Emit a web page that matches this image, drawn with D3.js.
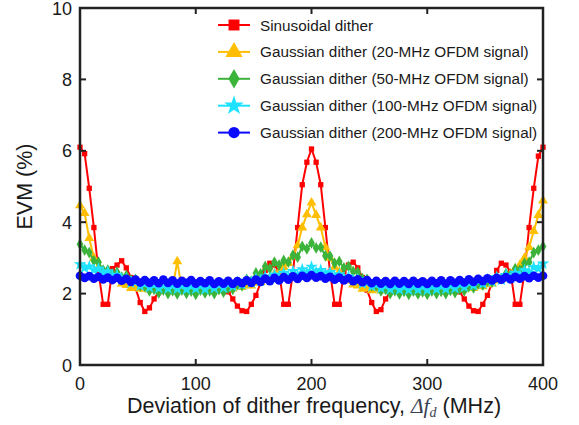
<!DOCTYPE html>
<html>
    <head>
        <meta charset="utf-8">
        <title>EVM vs dither frequency</title>
        <script src='https://d3js.org/d3.v7.min.js'></script>
        <style>
            body { margin: 0; background: #fff; }
            text { font-family: "Liberation Sans", Arial, sans-serif; fill: #1a1a1a; }
        </style>
    </head>
    <body>
        <svg class="chart" width="579" height="425"></svg>

        <script>
            // dither frequency grid (MHz), one sample every 4 MHz
            const freqMHz = d3.range(0, 401, 4)

            const seriesNames = [
                "Sinusoidal dither",
                "Gaussian dither (20-MHz OFDM signal)",
                "Gaussian dither (50-MHz OFDM signal)",
                "Gaussian dither (100-MHz OFDM signal)",
                "Gaussian dither (200-MHz OFDM signal)"
            ]

            // EVM (%), rows of 10 samples (0-36, 40-76, ... 360-396, 400)
            const evmSinusoidal = [
                6.10, 5.92, 4.95, 3.85, 2.60, 1.70, 1.70, 2.70, 2.80, 2.92,
                2.72, 2.45, 2.15, 1.75, 1.50, 1.60, 1.85, 2.05, 2.20, 2.28,
                2.30, 2.32, 2.30, 2.33, 2.30, 2.32, 2.30, 2.33, 2.30, 2.28,
                2.25, 2.20, 2.05, 1.85, 1.65, 1.52, 1.50, 1.70, 1.95, 2.30,
                2.65, 2.85, 2.80, 2.60, 1.70, 1.70, 2.60, 3.85, 5.05, 5.68,
                6.05, 5.68, 5.05, 3.85, 2.60, 1.70, 1.70, 2.60, 2.80, 2.88,
                2.72, 2.45, 2.10, 1.75, 1.50, 1.55, 1.85, 2.05, 2.20, 2.28,
                2.30, 2.32, 2.30, 2.33, 2.30, 2.32, 2.30, 2.32, 2.30, 2.28,
                2.25, 2.20, 2.05, 1.85, 1.65, 1.52, 1.50, 1.70, 1.95, 2.30,
                2.65, 2.85, 2.80, 2.60, 1.70, 1.70, 2.60, 3.85, 4.95, 5.85,
                6.10
            ]
            const evmGauss20 = [
                4.47, 4.25, 3.55, 3.00, 2.75, 2.60, 2.55, 2.42, 2.42, 2.28,
                2.24, 2.15, 2.17, 2.13, 2.16, 2.11, 2.15, 2.10, 2.14, 2.11,
                2.15, 2.90, 2.14, 2.10, 2.15, 2.10, 2.14, 2.11, 2.16, 2.12,
                2.16, 2.13, 2.18, 2.14, 2.20, 2.18, 2.23, 2.22, 2.30, 2.32,
                2.42, 2.45, 2.56, 2.60, 2.74, 2.85, 3.05, 3.35, 3.85, 4.22,
                4.55, 4.20, 3.85, 3.30, 3.00, 2.75, 2.60, 2.42, 2.36, 2.25,
                2.22, 2.13, 2.15, 2.09, 2.13, 2.08, 2.12, 2.07, 2.11, 2.07,
                2.10, 2.07, 2.10, 2.06, 2.10, 2.07, 2.11, 2.07, 2.12, 2.09,
                2.13, 2.10, 2.14, 2.12, 2.17, 2.15, 2.21, 2.20, 2.26, 2.28,
                2.36, 2.40, 2.50, 2.56, 2.68, 2.80, 3.00, 3.30, 3.75, 4.20,
                4.60
            ]
            const evmGauss50 = [
                3.38, 3.22, 3.15, 2.92, 2.88, 2.66, 2.66, 2.55, 2.60, 2.46,
                2.50, 2.38, 2.40, 2.22, 2.20, 2.08, 2.12, 2.02, 2.10, 2.00,
                2.08, 1.99, 2.10, 2.01, 2.07, 1.98, 2.10, 2.02, 2.08, 2.00,
                2.11, 2.04, 2.15, 2.12, 2.26, 2.22, 2.40, 2.34, 2.58, 2.55,
                2.76, 2.70, 2.88, 2.80, 2.93, 2.88, 3.08, 3.02, 3.32, 3.25,
                3.42, 3.28, 3.30, 3.06, 3.05, 2.85, 2.90, 2.72, 2.76, 2.62,
                2.60, 2.42, 2.40, 2.22, 2.22, 2.08, 2.12, 2.00, 2.08, 1.99,
                2.06, 1.98, 2.07, 1.99, 2.05, 1.98, 2.07, 2.00, 2.06, 2.00,
                2.09, 2.03, 2.12, 2.08, 2.20, 2.16, 2.28, 2.24, 2.36, 2.32,
                2.46, 2.42, 2.56, 2.52, 2.70, 2.66, 2.85, 2.88, 3.15, 3.22,
                3.32
            ]
            const evmGauss100 = [
                2.82, 2.72, 2.76, 2.66, 2.70, 2.58, 2.62, 2.50, 2.52, 2.40,
                2.42, 2.30, 2.34, 2.22, 2.28, 2.17, 2.25, 2.15, 2.23, 2.14,
                2.22, 2.13, 2.24, 2.12, 2.21, 2.14, 2.23, 2.12, 2.22, 2.15,
                2.24, 2.16, 2.27, 2.20, 2.32, 2.25, 2.36, 2.30, 2.42, 2.35,
                2.48, 2.40, 2.53, 2.44, 2.58, 2.48, 2.63, 2.52, 2.68, 2.58,
                2.75, 2.60, 2.66, 2.55, 2.60, 2.48, 2.54, 2.43, 2.48, 2.36,
                2.40, 2.28, 2.32, 2.20, 2.26, 2.15, 2.22, 2.12, 2.20, 2.11,
                2.19, 2.10, 2.20, 2.11, 2.19, 2.10, 2.21, 2.12, 2.20, 2.13,
                2.23, 2.15, 2.27, 2.18, 2.31, 2.23, 2.36, 2.28, 2.40, 2.33,
                2.46, 2.38, 2.52, 2.44, 2.58, 2.50, 2.65, 2.58, 2.74, 2.70,
                2.84
            ]
            const evmGauss200 = [
                2.50, 2.44, 2.49, 2.42, 2.47, 2.40, 2.45, 2.38, 2.44, 2.36,
                2.41, 2.33, 2.39, 2.31, 2.38, 2.30, 2.37, 2.29, 2.39, 2.30,
                2.37, 2.28, 2.36, 2.30, 2.38, 2.28, 2.35, 2.29, 2.37, 2.27,
                2.34, 2.28, 2.36, 2.27, 2.35, 2.29, 2.37, 2.30, 2.39, 2.33,
                2.42, 2.35, 2.44, 2.37, 2.46, 2.39, 2.48, 2.41, 2.50, 2.44,
                2.52, 2.45, 2.49, 2.42, 2.47, 2.39, 2.45, 2.37, 2.43, 2.35,
                2.40, 2.32, 2.38, 2.29, 2.36, 2.28, 2.35, 2.27, 2.36, 2.28,
                2.35, 2.27, 2.36, 2.28, 2.34, 2.27, 2.36, 2.29, 2.37, 2.28,
                2.37, 2.30, 2.38, 2.31, 2.40, 2.33, 2.41, 2.35, 2.43, 2.37,
                2.44, 2.39, 2.46, 2.40, 2.47, 2.42, 2.49, 2.43, 2.50, 2.45,
                2.50
            ]

            const xTicks = [0, 100, 200, 300, 400]
            const yTicks = [0, 2, 4, 6, 8, 10]

            // plot box
            const svg = d3.select("svg.chart")
            const plotLeft = 80, plotRight = 543, plotTop = 8, plotBottom = 365

            const x = d3.scaleLinear().domain([0, 400]).range([plotLeft, plotRight])
            const y = d3.scaleLinear().domain([0, 10]).range([plotBottom, plotTop])

            // series styling (draw order = red first, blue on top)
            const series = [
                { name: seriesNames[0], values: evmSinusoidal, color: "#ff0000", symbol: d3.symbolSquare,   size: 28, legendSize: 120 },
                { name: seriesNames[1], values: evmGauss20,    color: "#ffbf00", symbol: d3.symbolTriangle, size: 42, legendSize: 130 },
                { name: seriesNames[2], values: evmGauss50,    color: "#3cb43c", symbol: d3.symbolDiamond,  size: 40, legendSize: 110 },
                { name: seriesNames[3], values: evmGauss100,   color: "#1ee2ff", symbol: d3.symbolStar,     size: 50, legendSize: 120 },
                { name: seriesNames[4], values: evmGauss200,   color: "#0a0aff", symbol: d3.symbolCircle,   size: 60, legendSize: 100 }
            ]

            const line = d3.line()
                .x(function(d) { return x(d[0]) })
                .y(function(d) { return y(d[1]) })

            series.forEach(function(s) {
                const pts = freqMHz.map(function(f, i) { return [f, s.values[i]] })
                const g = svg.append("g")
                g.append("path")
                    .datum(pts)
                    .attr("fill", "none")
                    .attr("stroke", s.color)
                    .attr("stroke-width", 2)
                    .attr("d", line)
                g.selectAll("path.mk")
                    .data(pts)
                    .enter()
                    .append("path")
                        .attr("class", "mk")
                        .attr("transform", function(d) { return "translate(" + x(d[0]) + "," + y(d[1]) + ")" })
                        .attr("d", d3.symbol().type(s.symbol).size(s.size))
                        .attr("fill", s.color)
            })

            // frame with inward ticks on all four sides
            svg.append("rect")
                .attr("x", plotLeft).attr("y", plotTop)
                .attr("width", plotRight - plotLeft).attr("height", plotBottom - plotTop)
                .attr("fill", "none")
                .attr("stroke", "#222")
                .attr("stroke-width", 2.5)

            const tickLen = 6
            xTicks.forEach(function(t) {
                svg.append("line").attr("x1", x(t)).attr("x2", x(t)).attr("y1", plotBottom).attr("y2", plotBottom - tickLen)
                    .attr("stroke", "#222").attr("stroke-width", 2)
                svg.append("line").attr("x1", x(t)).attr("x2", x(t)).attr("y1", plotTop).attr("y2", plotTop + tickLen)
                    .attr("stroke", "#222").attr("stroke-width", 2)
                svg.append("text")
                    .attr("x", x(t)).attr("y", 390)
                    .attr("text-anchor", "middle")
                    .style("font-size", "18px")
                    .text(t)
            })
            yTicks.forEach(function(t) {
                svg.append("line").attr("x1", plotLeft).attr("x2", plotLeft + tickLen).attr("y1", y(t)).attr("y2", y(t))
                    .attr("stroke", "#222").attr("stroke-width", 2)
                svg.append("line").attr("x1", plotRight).attr("x2", plotRight - tickLen).attr("y1", y(t)).attr("y2", y(t))
                    .attr("stroke", "#222").attr("stroke-width", 2)
                svg.append("text")
                    .attr("x", 72).attr("y", y(t) + 6.5)
                    .attr("text-anchor", "end")
                    .style("font-size", "18px")
                    .text(t)
            })

            // axis titles
            svg.append("text")
                .attr("transform", "translate(32," + ((plotTop + plotBottom) / 2) + ") rotate(-90)")
                .attr("text-anchor", "middle")
                .style("font-size", "21.5px")
                .text("EVM (%)")

            const xl = svg.append("text")
                .attr("x", 314).attr("y", 413)
                .attr("text-anchor", "middle")
                .style("font-size", "21.5px")
            xl.append("tspan").text("Deviation of dither frequency, ")
            xl.append("tspan").style("font-family", "'Liberation Serif', serif").style("font-style", "italic").style("fill", "#3a4150").text("\u0394f")
            xl.append("tspan").attr("dy", 4).style("font-size", "14px").style("font-family", "'Liberation Serif', serif").style("font-style", "italic").style("fill", "#3a4150").text("d")
            xl.append("tspan").attr("dy", -4).text(" (MHz)")

            // legend
            const legend = svg.append("g")
            series.forEach(function(s, i) {
                const ly = 25 + i * 26.9
                legend.append("line")
                    .attr("x1", 218).attr("x2", 250).attr("y1", ly).attr("y2", ly)
                    .attr("stroke", s.color).attr("stroke-width", 2)
                legend.append("path")
                    .attr("transform", "translate(234," + ly + ")")
                    .attr("d", d3.symbol().type(s.symbol).size(s.legendSize))
                    .attr("fill", s.color)
                legend.append("text")
                    .attr("x", 260).attr("y", ly + 5.5)
                    .style("font-size", "15.3px")
                    .text(s.name)
            })
        </script>
    </body>
</html>
